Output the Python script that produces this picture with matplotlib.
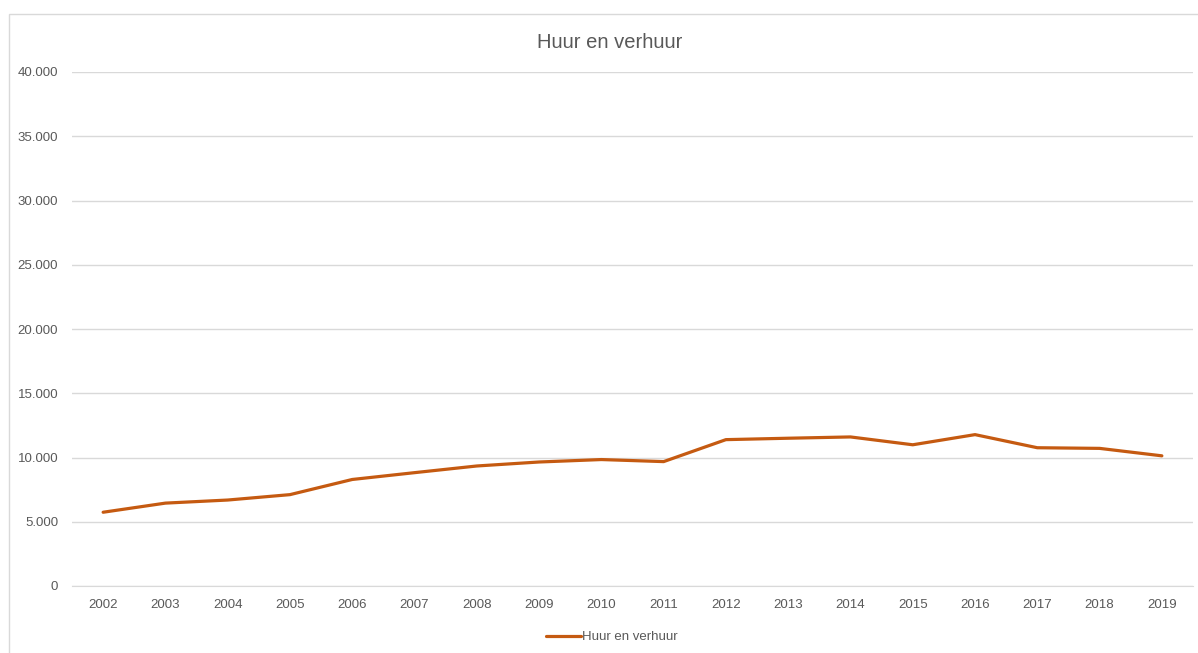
import matplotlib
matplotlib.use("Agg")
import matplotlib.pyplot as plt
from matplotlib.patches import Rectangle

# data
years = [str(y) for y in range(2002, 2020)]
huur = [5740, 6450, 6690, 7110, 8290, 8820, 9340, 9650, 9840,
        9680, 11390, 11500, 11600, 10990, 11780, 10760, 10710, 10130]
y_ticks = [0, 5000, 10000, 15000, 20000, 25000, 30000, 35000, 40000]

plt.rcParams['font.family'] = ['Liberation Sans', 'DejaVu Sans']

W, H = 1198, 653
fig = plt.figure(figsize=(W / 100, H / 100), dpi=100)

# plot area in pixels: left 72, right 1193, top 72, bottom 586
ax = fig.add_axes([72 / W, 1 - 586 / H, (1193 - 72) / W, (586 - 72) / H])

x = list(range(len(years)))
ax.plot(x, huur, color='#C55A11', linewidth=2.3, solid_capstyle='round',
        label='Huur en verhuur')

ax.set_xlim(-0.5, len(years) - 0.5)
ax.set_ylim(0, 40000)
ax.set_xticks(x)
ax.set_xticklabels(years)
ax.set_yticks(y_ticks)
ax.set_yticklabels(['{:,}'.format(v).replace(',', '.') for v in y_ticks])
ax.tick_params(axis='both', length=0, labelsize=9.5, colors='#595959')
ax.tick_params(axis='x', pad=9)
ax.tick_params(axis='y', pad=10)

ax.grid(axis='y', color='#D9D9D9', linewidth=1)
ax.set_axisbelow(True)
for side in ['top', 'right', 'left']:
    ax.spines[side].set_visible(False)
ax.spines['bottom'].set_color('#D9D9D9')

fig.text(610 / W, 1 - 42 / H, 'Huur en verhuur', ha='center', va='center',
         fontsize=14.5, color='#595959')

fig.legend(loc='center', bbox_to_anchor=(612 / W, 1 - 637 / H), frameon=False,
           fontsize=9.5, labelcolor='#595959', handlelength=2.6, handletextpad=0.1)

# outer chart border (runs off the right and bottom edges)
fig.patches.append(Rectangle((8.5 / W, -0.05), 1.1, 1 - 13.5 / H + 0.05,
                             transform=fig.transFigure, fill=False,
                             edgecolor='#D9D9D9', linewidth=1))

fig.savefig('out.png', dpi=100)
